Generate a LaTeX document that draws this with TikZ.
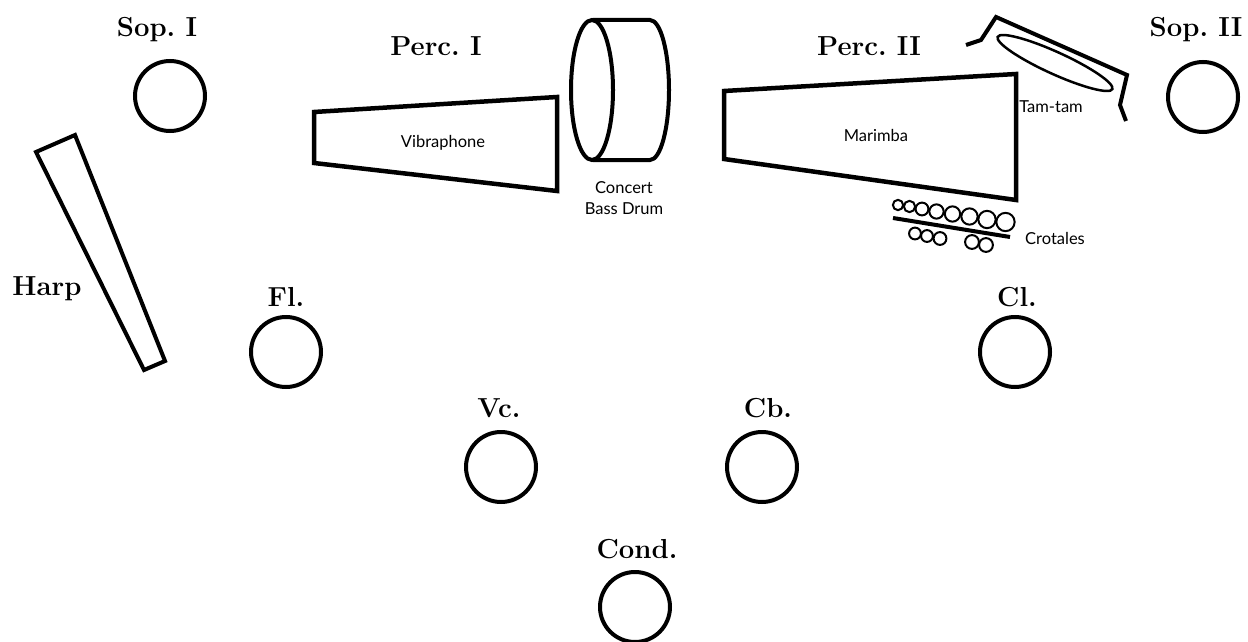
\documentclass[tikz,border=0pt]{standalone}
\usepackage{fontspec}
\newfontfamily\labelsans{Lato}
\frenchspacing
\begin{document}
\begin{tikzpicture}[x=1pt,y=-1pt,
  seat/.style={draw,circle,line width=4pt,minimum size=70pt,inner sep=0pt},
  player/.style={font=\fontsize{27.5}{29}\selectfont\bfseries,inner sep=0pt},
  instr/.style={font=\labelsans\fontsize{16.5}{21}\selectfont,inner sep=0pt,align=center},
  body/.style={line width=4.5pt,line join=miter},
  crot/.style={draw,circle,line width=2pt,inner sep=0pt}]
\useasboundingbox (0,0) rectangle (1248,642);

% players' seats
\node[seat] (sop1) at (170,96) {};
\node[seat] (sop2) at (1203,97) {};
\node[seat] (fl) at (286,352) {};
\node[seat] (cl) at (1015,352) {};
\node[seat] (vc) at (501,467) {};
\node[seat] (cb) at (762,467) {};
\node[seat] (cond) at (635,607) {};

% player labels
\node[player] (lsop1) at (157,30) {Sop. I};
\node[player] (lsop2) at (1196,30) {Sop. II};
\node[player] (lperc1) at (436,46) {Perc. I};
\node[player] (lperc2) at (869,46) {Perc. II};
\node[player] (lharp) at (47,289) {Harp};
\node[player] (lfl) at (286,297) {Fl.};
\node[player] (lcl) at (1017,297) {Cl.};
\node[player] (lvc) at (499,408) {Vc.};
\node[player] (lcb) at (768,408) {Cb.};
\node[player] (lcond) at (637,549) {Cond.};

% harp
\draw[body,line width=4pt] (36,152) -- (75,135) -- (165,361) -- (144,370) -- cycle;

% vibraphone
\draw[body] (314,112) -- (557,97) -- (557,191) -- (314,163) -- cycle;
\node[instr] (vib) at (443,143) {Vibraphone};

% concert bass drum: shell, then the front head
\draw[line width=4pt] (593,20) -- (650,20)
  arc[start angle=90,end angle=-90,x radius=19pt,y radius=70pt] -- (593,160);
\draw[line width=4pt] (592,90) ellipse[x radius=21pt,y radius=70pt];
\node[instr] (bd) at (624,198) {Concert\\Bass Drum};

% marimba
\draw[body] (724,91) -- (1016,74) -- (1016,200) -- (724,159) -- cycle;
\node[instr] (mar) at (876,135) {Marimba};

% tam-tam and its stand
\draw[line width=4pt,line join=miter] (966,45) -- (981,40) -- (996,17) -- (1127,75)
  -- (1120,105) -- (1126,121);
\draw[line width=2.5pt] (1055,63) ellipse[x radius=63pt,y radius=11pt,rotate=-24.5];
\node[instr] (tam) at (1051,107) {Tam-tam};

% crotales: rack bar with two rows of discs (centre x / centre y / outer diameter)
\draw[line width=4pt] (893,218) -- (1010,237);
\foreach \x/\y/\d [count=\i] in {898/205/11.5,909.5/206.5/12.5,922/209/14,936.5/211.5/15.5,
    952.5/214/16.5,969.5/216.5/17.5,987/219.5/18.5,1005.5/222/19.5,
    915/233.5/13,927/236/13,940/238.5/14,972/242/15,986/245/15}
  \node[crot,minimum size=\d pt - 1.2pt] (c\i) at (\x,\y) {};
\node[instr] (crt) at (1055,238) {Crotales};
\end{tikzpicture}
\end{document}
